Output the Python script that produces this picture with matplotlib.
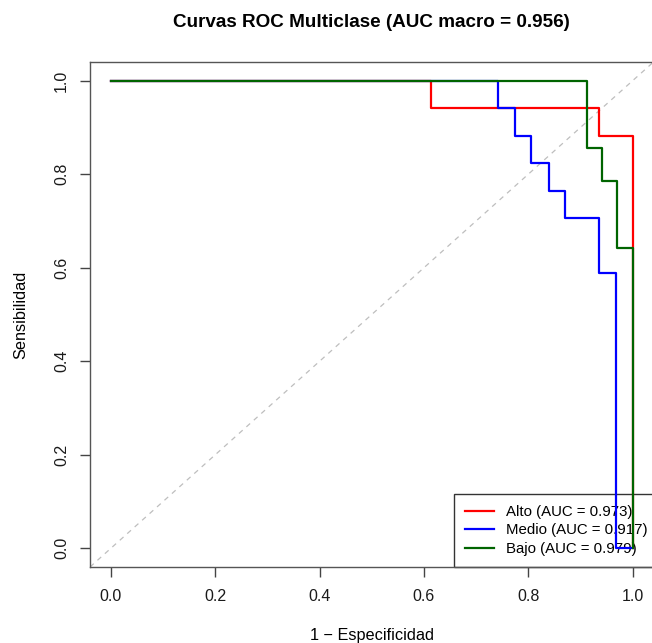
import numpy as np
import matplotlib
matplotlib.use('Agg')
import matplotlib.pyplot as plt

plt.rcParams['font.family'] = ['Liberation Sans', 'DejaVu Sans']

# curvas ROC (puntos de cada escalon)
alto_x = [0.0, 0.613, 0.613, 0.936, 0.936, 1.0, 1.0]
alto_y = [1.0, 1.0, 0.941, 0.941, 0.882, 0.882, 0.0]

medio_x = [0.0, 0.742, 0.742, 0.774, 0.774, 0.806, 0.806, 0.839, 0.839,
           0.871, 0.871, 0.935, 0.935, 0.968, 0.968, 1.0]
medio_y = [1.0, 1.0, 0.941, 0.941, 0.882, 0.882, 0.824, 0.824, 0.765,
           0.765, 0.706, 0.706, 0.588, 0.588, 0.0, 0.0]

bajo_x = [0.0, 0.912, 0.912, 0.941, 0.941, 0.971, 0.971, 1.0, 1.0]
bajo_y = [1.0, 1.0, 0.857, 0.857, 0.786, 0.786, 0.643, 0.643, 0.0]

clases = ['Alto', 'Medio', 'Bajo']
auc = [0.973, 0.917, 0.979]
colores = ['#FF0000', '#0000FF', '#006400']
auc_macro = 0.956

ticks = [0.0, 0.2, 0.4, 0.6, 0.8, 1.0]

fig = plt.figure(figsize=(6.52, 6.43), dpi=100)
W, H = 652, 643
ax = fig.add_axes([90 / W, (H - 567) / H, 563.5 / W, 505 / H])

# diagonal de referencia
ax.plot([-0.04, 1.04], [-0.04, 1.04], color='#BEBEBE', lw=0.9,
        dashes=(4, 4), zorder=2)

curvas = [(alto_x, alto_y), (medio_x, medio_y), (bajo_x, bajo_y)]
for (xs, ys), nombre, a, c in zip(curvas, clases, auc, colores):
    ax.plot(xs, ys, color=c, lw=1.6, zorder=3,
            label=f'{nombre} (AUC = {a:.3f})')

ax.set_xlim(-0.04, 1.04)
ax.set_ylim(-0.04, 1.04)
ax.set_xticks(ticks)
ax.set_yticks(ticks)
ax.set_xticklabels([f'{t:.1f}' for t in ticks])
ax.set_yticklabels([f'{t:.1f}' for t in ticks], rotation=90, va='center')
ax.tick_params(axis='both', length=7, width=1, color='#444444',
               labelsize=11.5, labelcolor='#1a1a1a')
ax.tick_params(axis='x', pad=9)
ax.tick_params(axis='y', pad=8)
for s in ax.spines.values():
    s.set_color('#555555')
    s.set_linewidth(1.0)

ax.set_title(f'Curvas ROC Multiclase (AUC macro = {auc_macro:.3f})',
             fontsize=13.6, fontweight='bold', pad=25)
ax.set_xlabel('1 \u2212 Especificidad', fontsize=11.7, labelpad=17)
ax.set_ylabel('Sensibilidad', fontsize=11.7, labelpad=19)

leg = ax.legend(loc='lower right', bbox_to_anchor=(1 + 5 / 563.5, 0),
                fontsize=10.8, frameon=True, fancybox=False,
                edgecolor='black', facecolor='none',
                borderaxespad=0, handlelength=1.9, handletextpad=0.8,
                labelspacing=0.29, borderpad=0.75)
leg.get_frame().set_linewidth(1.0)
leg.set_zorder(1)

fig.savefig('out.png', dpi=100)
